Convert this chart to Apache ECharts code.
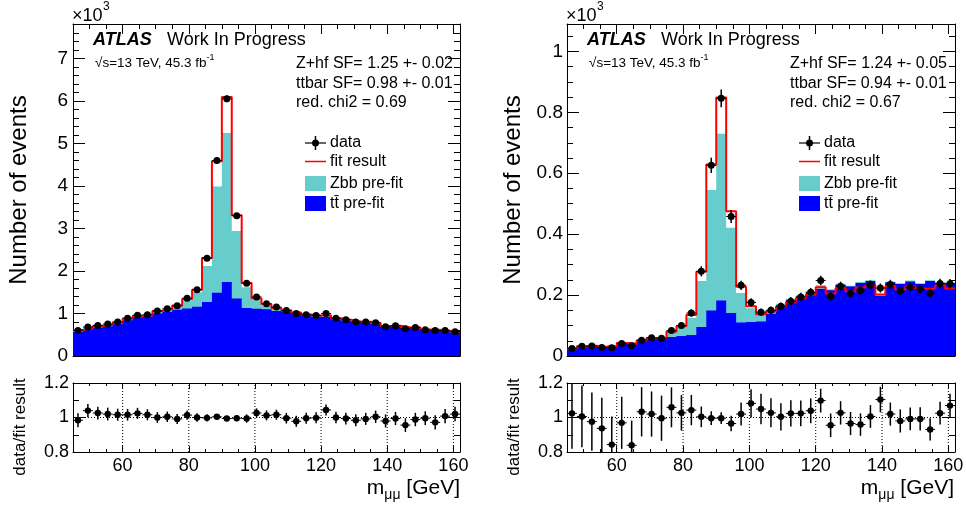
<!DOCTYPE html>
<html><head><meta charset="utf-8">
<script src="https://cdn.jsdelivr.net/npm/echarts@6/dist/echarts.min.js"></script>
<style>html,body{margin:0;padding:0;background:#fff}#c{width:966px;height:508px}</style>
</head><body><div id="c"></div>
<script>
// ---------------- data (values in units of 10^3 events) ----------------
const binLo = [45,48,51,54,57,60,63,66,69,72,75,78,81,84,87,90,93,96,99,102,105,108,111,114,117,120,123,126,129,132,135,138,141,144,147,150,153,156,159];
const binHi = [48,51,54,57,60,63,66,69,72,75,78,81,84,87,90,93,96,99,102,105,108,111,114,117,120,123,126,129,132,135,138,141,144,147,150,153,156,159,162];

// left panel
const ttL   = [0.57,0.63,0.67,0.70,0.75,0.84,0.91,0.93,1.00,1.04,1.09,1.12,1.16,1.27,1.49,1.74,1.35,1.13,1.11,1.10,1.06,1.05,0.99,0.957,0.925,0.918,0.863,0.83,0.80,0.784,0.753,0.698,0.698,0.672,0.659,0.62,0.61,0.59,0.555];
const zbbL  = [0.041,0.030,0.036,0.039,0.042,0.042,0.036,0.035,0.064,0.070,0.098,0.194,0.338,0.848,2.496,3.508,1.59,0.49,0.21,0.08,0.075,0.036,0.04,0.029,0.036,0.047,0.035,0.033,0.023,0.03,0.031,0.016,0.024,0.010,0.026,0.012,0.015,0.012,0.012];
const fitL  = [0.61,0.654,0.702,0.735,0.787,0.876,0.938,0.955,1.06,1.106,1.19,1.341,1.56,2.305,4.58,6.09,3.31,1.72,1.355,1.215,1.132,1.074,1.022,0.974,0.952,0.958,0.89,0.855,0.813,0.806,0.777,0.704,0.714,0.669,0.678,0.622,0.617,0.595,0.559];
const dataL = [0.60,0.68,0.72,0.75,0.80,0.89,0.96,0.97,1.06,1.11,1.18,1.36,1.56,2.30,4.60,6.05,3.30,1.71,1.39,1.23,1.15,1.07,1.00,0.97,0.95,1.00,0.89,0.85,0.80,0.80,0.78,0.69,0.71,0.64,0.67,0.62,0.60,0.60,0.57];
const errL  = [0.024,0.026,0.027,0.027,0.028,0.030,0.031,0.031,0.033,0.033,0.034,0.037,0.039,0.048,0.068,0.078,0.057,0.041,0.037,0.035,0.034,0.033,0.032,0.031,0.031,0.032,0.030,0.029,0.028,0.028,0.028,0.026,0.027,0.025,0.026,0.025,0.024,0.024,0.024];
const ratioL    = [0.984,1.04,1.026,1.02,1.016,1.016,1.024,1.016,1.0,1.004,0.992,1.014,1.0,0.998,1.004,0.994,0.996,0.994,1.026,1.012,1.016,0.996,0.978,0.996,0.998,1.044,1.0,0.994,0.984,0.992,1.004,0.98,0.994,0.956,0.988,0.996,0.972,1.008,1.02];
const ratioErrL = [0.041,0.038,0.037,0.037,0.035,0.034,0.032,0.032,0.031,0.030,0.029,0.027,0.025,0.021,0.015,0.013,0.017,0.024,0.027,0.029,0.029,0.031,0.032,0.032,0.032,0.032,0.034,0.034,0.035,0.035,0.036,0.038,0.038,0.040,0.039,0.040,0.041,0.041,0.042];

// right panel
const ttR   = [0.022,0.029,0.031,0.031,0.032,0.042,0.042,0.053,0.056,0.057,0.062,0.066,0.069,0.095,0.149,0.182,0.141,0.110,0.112,0.113,0.139,0.166,0.183,0.194,0.207,0.220,0.216,0.234,0.228,0.240,0.246,0.197,0.242,0.236,0.245,0.236,0.246,0.240,0.238];
const zbbR  = [0.003,0.004,0.004,0.003,0.004,0.003,0.003,0.002,0.005,0.004,0.017,0.0285,0.0565,0.151,0.396,0.548,0.28,0.097,0.045,0.024,0.012,0.005,0.004,0.005,0.005,0.012,0.003,0.003,0.003,0.003,0.003,0.004,0.003,0.003,0.003,0.003,0.003,0.003,0.003];
const fitR  = [0.0244,0.0318,0.0338,0.0299,0.032,0.0423,0.0405,0.0503,0.0588,0.0582,0.0793,0.0974,0.135,0.277,0.629,0.849,0.475,0.227,0.163,0.137,0.146,0.162,0.176,0.189,0.201,0.226,0.205,0.223,0.212,0.225,0.232,0.202,0.230,0.217,0.228,0.221,0.221,0.232,0.222];
const dataR = [0.025,0.032,0.033,0.028,0.027,0.041,0.034,0.052,0.060,0.058,0.084,0.100,0.141,0.278,0.626,0.846,0.458,0.232,0.176,0.144,0.150,0.163,0.180,0.194,0.209,0.248,0.196,0.229,0.205,0.216,0.233,0.223,0.235,0.213,0.226,0.219,0.206,0.238,0.237];
const errR  = [0.005,0.0057,0.0057,0.0053,0.0052,0.0064,0.0058,0.0072,0.0077,0.0076,0.0092,0.010,0.0119,0.0167,0.025,0.029,0.0214,0.0152,0.0133,0.012,0.0122,0.0128,0.0134,0.0139,0.0145,0.0157,0.014,0.0151,0.0143,0.0147,0.0153,0.0149,0.0153,0.0146,0.015,0.0148,0.0144,0.0154,0.0154];
const ratioR    = [1.024,1.006,0.976,0.937,0.843,0.969,0.839,1.033,1.02,0.996,1.059,1.027,1.043,1.004,0.996,0.996,0.965,1.02,1.082,1.049,1.027,1.004,1.024,1.024,1.039,1.098,0.955,1.027,0.965,0.959,1.006,1.104,1.02,0.98,0.992,0.992,0.931,1.025,1.069];
const ratioErrR = [0.205,0.179,0.169,0.177,0.163,0.151,0.143,0.143,0.131,0.131,0.116,0.103,0.088,0.060,0.040,0.034,0.045,0.067,0.082,0.088,0.084,0.079,0.076,0.074,0.072,0.069,0.068,0.068,0.067,0.065,0.066,0.074,0.067,0.067,0.066,0.067,0.065,0.066,0.069];

// ticks
const xMajor = [60,80,100,120,140,160];
const xMinor = [50,55,65,70,75,85,90,95,105,110,115,125,130,135,145,150,155];
const yMajorL = [0,1,2,3,4,5,6,7];
const yMinorL = [0.2,0.4,0.6,0.8,1.2,1.4,1.6,1.8,2.2,2.4,2.6,2.8,3.2,3.4,3.6,3.8,4.2,4.4,4.6,4.8,5.2,5.4,5.6,5.8,6.2,6.4,6.6,6.8,7.2,7.4,7.6,7.8];
const yMajorR = [0,0.2,0.4,0.6,0.8,1];
const yMinorR = [0.05,0.1,0.15,0.25,0.3,0.35,0.45,0.5,0.55,0.65,0.7,0.75,0.85,0.9,0.95,1.05];
const rMajor = [0.8,1,1.2];
const rMinor = [0.9,1.1];
const sfTextL = ['Z+hf SF= 1.25 +- 0.02','ttbar SF= 0.98 +- 0.01','red. chi2 = 0.69'];
const sfTextR = ['Z+hf SF= 1.24 +- 0.05','ttbar SF= 0.94 +- 0.01','red. chi2 = 0.67'];
const legendLabels = ['data','fit result','Zbb pre-fit','tt\u0304 pre-fit'];

// ---------------- style ----------------
const FONT = "'Liberation Sans', Arial, Helvetica, sans-serif";
const BLUE = '#0000ff', TURQ = '#66cccc', RED = '#ff0000';
const XMIN = 45, XMAX = 162;

const gridDefs = [
  {left:73, top:24, width:387, height:332},
  {left:73, top:383, width:387, height:69},
  {left:567, top:24, width:388, height:332},
  {left:567, top:383, width:388, height:69}
].map(g => Object.assign({containLabel:false, outerBoundsMode:'none', show:false}, g));

function makeAxes(dim, g, min, max, major, minor, majLen, minLen, label) {
  const pos = dim === 'x' ? ['bottom','top'] : ['left','right'];
  const out = [];
  for (let side = 0; side < 2; side++) {
    for (let kind = 0; kind < 2; kind++) {
      const vals = kind === 0 ? major : minor;
      out.push({
        type:'value', gridIndex:g, min:min, max:max, position:pos[side],
        axisLine:{show: kind === 0, onZero:false, lineStyle:{color:'#000', width:1}},
        axisTick:{show: true, inside:true, length: kind === 0 ? majLen : minLen,
                  customValues: vals, lineStyle:{color:'#000', width:1}},
        axisLabel: (side === 0 && kind === 0 && label) ?
          Object.assign({show:true, customValues: major, color:'#000', fontFamily:FONT}, label) : {show:false},
        splitLine:{show:false}, minorTick:{show:false}, minorSplitLine:{show:false},
        axisPointer:{show:false}
      });
    }
  }
  return out;
}
const numFmt = v => String(Math.round(v * 10) / 10);
const xAxes = [].concat(
  makeAxes('x', 0, XMIN, XMAX, xMajor, xMinor, 10, 5, null),
  makeAxes('x', 1, XMIN, XMAX, xMajor, xMinor, 6, 3, {fontSize:18, margin:5, formatter:numFmt}),
  makeAxes('x', 2, XMIN, XMAX, xMajor, xMinor, 10, 5, null),
  makeAxes('x', 3, XMIN, XMAX, xMajor, xMinor, 6, 3, {fontSize:18, margin:5, formatter:numFmt})
);
const yAxes = [].concat(
  makeAxes('y', 0, 0, 7.81, yMajorL, yMinorL, 12, 6, {fontSize:19, margin:5, formatter:numFmt}),
  makeAxes('y', 1, 0.8, 1.2, rMajor, rMinor, 12, 6, {fontSize:18, margin:4, formatter:numFmt}),
  makeAxes('y', 2, 0, 1.09, yMajorR, yMinorR, 12, 6, {fontSize:19, margin:4, formatter:numFmt}),
  makeAxes('y', 3, 0.8, 1.2, rMajor, rMinor, 12, 6, {fontSize:18, margin:4, formatter:numFmt})
);

function stepData(arr) {
  const d = binLo.map((lo, i) => [lo, arr[i]]);
  d.push([binHi[binHi.length - 1], arr[arr.length - 1]]);
  return d;
}
// stacked histogram outline drawn through the axis scale (api.coord)
function histRender(layers, color) {
  return function (params, api) {
    const top = i => layers.reduce((s, arr) => s + arr[i], 0);
    const pts = [api.coord([binLo[0], 0])];
    for (let i = 0; i < binLo.length; i++) {
      pts.push(api.coord([binLo[i], top(i)]));
      pts.push(api.coord([binHi[i], top(i)]));
    }
    pts.push(api.coord([binHi[binHi.length - 1], 0]));
    return {type:'polygon', shape:{points:pts}, style:{fill:color, stroke:null}};
  };
}
function pointRender(r) {
  return function (params, api) {
    const lo = api.value(0), hi = api.value(1), y = api.value(2), e = api.value(3);
    const c = (lo + hi) / 2;
    const p = api.coord([c, y]), a = api.coord([lo, y]), b = api.coord([hi, y]);
    const t = api.coord([c, y + e]), bt = api.coord([c, y - e]);
    return {type:'group', children:[
      {type:'line', shape:{x1:a[0], y1:a[1], x2:b[0], y2:b[1]}, style:{stroke:'#000', lineWidth:1}},
      {type:'line', shape:{x1:t[0], y1:t[1], x2:bt[0], y2:bt[1]}, style:{stroke:'#000', lineWidth:1.5}},
      {type:'circle', shape:{cx:p[0], cy:p[1], r:r}, style:{fill:'#000'}}
    ]};
  };
}
function mainSeries(g, tt, zbb, fit, data, err) {
  const ax = {xAxisIndex:4 * g, yAxisIndex:4 * g};
  return [
    Object.assign({type:'custom', renderItem:histRender([tt, zbb], TURQ), clip:true, z:1, silent:true,
      encode:{x:0, y:1}, data:[[XMIN, 0]]}, ax),
    Object.assign({type:'custom', renderItem:histRender([tt], BLUE), clip:true, z:2, silent:true,
      encode:{x:0, y:1}, data:[[XMIN, 0]]}, ax),
    Object.assign({type:'line', step:'end', data:stepData(fit), symbol:'none',
      lineStyle:{color:RED, width:2}, z:3, silent:true}, ax),
    Object.assign({type:'custom', renderItem:pointRender(3.5), clip:true, z:4, silent:true,
      encode:{x:[0,1], y:[2,3]},
      data:binLo.map((lo, i) => [lo, binHi[i], data[i], err[i]])}, ax)
  ];
}
function ratioSeries(g, ratio, rerr) {
  const ax = {xAxisIndex:4 * g, yAxisIndex:4 * g};
  const out = [];
  xMajor.forEach(x => out.push(Object.assign({type:'line', data:[[x, 0.8], [x, 1.2]], symbol:'none',
    lineStyle:{color:'#000', width:1, type:[1,2]}, z:1, silent:true}, ax)));
  out.push(Object.assign({type:'line', data:[[XMIN, 1], [XMAX, 1]], symbol:'none',
    lineStyle:{color:'#000', width:1, type:[1,2]}, z:1, silent:true}, ax));
  out.push(Object.assign({type:'custom', renderItem:pointRender(3.2), clip:true, z:4, silent:true,
    encode:{x:[0,1], y:[2,3]},
    data:binLo.map((lo, i) => [lo, binHi[i], ratio[i], rerr[i]])}, ax));
  return out;
}

function txt(x, y, s, size, extra) {
  return {type:'text', x:x, y:y, z:100, silent:true,
    style:Object.assign({text:s, fontSize:size, fontFamily:FONT, fill:'#000', align:'left', verticalAlign:'top'}, extra || {})};
}
function panelGraphics(dx, sfText) {
  const els = [];
  els.push(txt(72 + dx, 7, '\u00d710', 18));
  els.push(txt(103 + dx, 1, '3', 12));
  els.push(txt(93 + dx, 31, 'ATLAS', 18, {fontWeight:'bold', fontStyle:'italic'}));
  els.push(txt(167 + dx, 31, 'Work In Progress', 18));
  els.push(txt(95 + dx, 53, '{a|\u221as=13 TeV, 45.3 fb}{b|-1}', 13.5, {rich:{
    a:{fontSize:13.5, fontFamily:FONT, lineHeight:17, verticalAlign:'bottom'},
    b:{fontSize:9, fontFamily:FONT, lineHeight:9, verticalAlign:'top'}}}));
  sfText.forEach((s, i) => els.push(txt(296 + dx, 56 + 19.5 * i, s, 16)));
  // legend
  const lx = 305 + dx;
  els.push({type:'line', z:100, silent:true, shape:{x1:lx, y1:143, x2:lx + 21, y2:143}, style:{stroke:'#000', lineWidth:1.2}});
  els.push({type:'line', z:100, silent:true, shape:{x1:lx + 10.5, y1:136, x2:lx + 10.5, y2:150}, style:{stroke:'#000', lineWidth:1.5}});
  els.push({type:'circle', z:100, silent:true, shape:{cx:lx + 10.5, cy:143, r:3.5}, style:{fill:'#000'}});
  els.push({type:'line', z:100, silent:true, shape:{x1:lx, y1:161.5, x2:lx + 21, y2:161.5}, style:{stroke:RED, lineWidth:1.5}});
  els.push({type:'rect', z:100, silent:true, shape:{x:lx, y:176, width:21, height:15}, style:{fill:TURQ}});
  els.push({type:'rect', z:100, silent:true, shape:{x:lx, y:196, width:21, height:15}, style:{fill:BLUE}});
  const ly = [143, 161.5, 183.5, 203.5];
  legendLabels.forEach((s, i) => els.push(txt(lx + 25, ly[i], s, 16, {verticalAlign:'middle'})));
  // axis titles
  els.push({type:'text', x:19 + dx, y:190, rotation:Math.PI / 2, z:100, silent:true,
    style:{text:'Number of events', fontSize:24, fontFamily:FONT, fill:'#000', align:'center', verticalAlign:'middle'}});
  els.push({type:'text', x:20 + dx, y:427, rotation:Math.PI / 2, z:100, silent:true,
    style:{text:'data/fit result', fontSize:17, fontFamily:FONT, fill:'#000', align:'center', verticalAlign:'middle'}});
  els.push({type:'text', x:460 + dx, y:478, z:100, silent:true,
    style:{text:'{m|m}{s|\u03bc\u03bc}{m| [GeV]}', fontFamily:FONT, fill:'#000', align:'right', verticalAlign:'top',
      rich:{m:{fontSize:21, fontFamily:FONT, lineHeight:24, verticalAlign:'top'},
            s:{fontSize:14, fontFamily:FONT, lineHeight:14, verticalAlign:'bottom'}}}});
  return els;
}

const option = {
  animation:false,
  backgroundColor:'#ffffff',
  grid:gridDefs,
  xAxis:xAxes,
  yAxis:yAxes,
  series:[].concat(
    mainSeries(0, ttL, zbbL, fitL, dataL, errL),
    ratioSeries(1, ratioL, ratioErrL),
    mainSeries(2, ttR, zbbR, fitR, dataR, errR),
    ratioSeries(3, ratioR, ratioErrR)
  ),
  graphic:[].concat(panelGraphics(0, sfTextL), panelGraphics(494, sfTextR))
};
const chart = echarts.init(document.getElementById('c'), null, {renderer:'canvas', width:966, height:508});
chart.setOption(option);
</script>
</body></html>
